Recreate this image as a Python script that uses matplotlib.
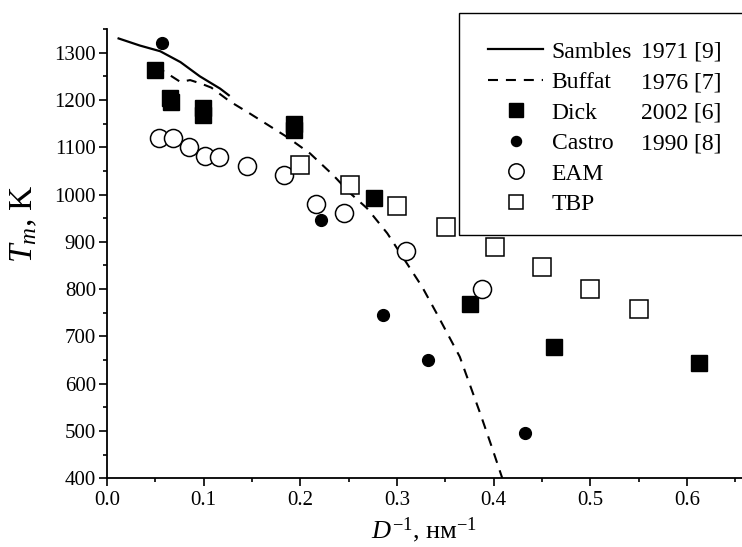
import matplotlib
matplotlib.use("Agg")
import matplotlib.pyplot as plt
from matplotlib.patches import Rectangle

plt.rcParams['font.family'] = ['Liberation Serif', 'DejaVu Serif']
plt.rcParams['mathtext.fontset'] = 'custom'
plt.rcParams['mathtext.rm'] = 'Liberation Serif'
plt.rcParams['mathtext.it'] = 'Liberation Serif:italic'

# Sambles 1971 [9] - solid curve
sambles_x = [0.012, 0.034, 0.055, 0.076, 0.096, 0.117, 0.126]
sambles_y = [1330, 1315, 1303, 1280, 1250, 1224, 1210]

# Buffat 1976 [7] - dashed curve
buffat_x = [0.050, 0.060, 0.076, 0.086, 0.098, 0.108, 0.127, 0.148, 0.186, 0.210,
            0.234, 0.252, 0.269, 0.290, 0.326, 0.341, 0.365, 0.386, 0.398, 0.409]
buffat_y = [1270, 1259, 1238, 1242, 1234, 1226, 1197, 1171, 1122, 1087,
            1041, 1002, 971, 918, 805, 749, 657, 538, 467, 400]

# Dick 2002 [6]
dick_x = [0.050, 0.065, 0.066, 0.099, 0.099, 0.193, 0.193, 0.276, 0.376, 0.463, 0.613]
dick_y = [1264, 1205, 1196, 1183, 1168, 1149, 1137, 993, 768, 678, 643]

# Castro 1990 [8]
castro_x = [0.057, 0.221, 0.286, 0.332, 0.433]
castro_y = [1321, 946, 746, 650, 495]

# EAM
eam_x = [0.054, 0.068, 0.085, 0.101, 0.116, 0.145, 0.183, 0.216, 0.245, 0.309, 0.388]
eam_y = [1120, 1120, 1100, 1081, 1080, 1060, 1041, 980, 960, 880, 801]

# TBP
tbp_x = [0.200, 0.251, 0.300, 0.351, 0.401, 0.450, 0.500, 0.550]
tbp_y = [1063, 1020, 975, 932, 889, 846, 801, 757]

names = ["Sambles", "Buffat", "Dick", "Castro", "EAM", "TBP"]
refs = ["1971 [9]", "1976 [7]", "2002 [6]", "1990 [8]", "", ""]

fig = plt.figure(figsize=(7.42, 5.47), dpi=100)
ax = fig.add_axes([0.1442, 0.1256, 0.8558, 0.8214])

h1, = ax.plot(sambles_x, sambles_y, color='black', lw=1.6, zorder=2)
h2, = ax.plot(buffat_x, buffat_y, color='black', lw=1.5, ls=(0, (4.8, 3.8)), zorder=2)
h3, = ax.plot(dick_x, dick_y, 's', color='black', ms=12, zorder=3, ls='none')
h5, = ax.plot(eam_x, eam_y, 'o', mfc='white', mec='black', mew=1.1, ms=13, zorder=4, ls='none')
h6, = ax.plot(tbp_x, tbp_y, 's', mfc='white', mec='black', mew=1.1, ms=12.5, zorder=5, ls='none')
h4, = ax.plot(castro_x, castro_y, 'o', color='black', ms=8.5, zorder=6, ls='none')

ax.set_xlim(0, 0.657)
ax.set_ylim(400, 1349)
ax.set_xticks([0.0, 0.1, 0.2, 0.3, 0.4, 0.5, 0.6])
ax.set_xticks([0.05, 0.15, 0.25, 0.35, 0.45, 0.55, 0.65], minor=True)
ax.set_yticks(range(400, 1301, 100))
ax.set_yticks(range(450, 1351, 100), minor=True)
ax.spines['top'].set_visible(False)
ax.spines['right'].set_visible(False)
for s in ['left', 'bottom']:
    ax.spines[s].set_linewidth(1.3)
ax.tick_params(which='major', direction='out', length=6, width=1.2, labelsize=15, pad=2)
ax.tick_params(which='minor', direction='out', length=3, width=1.2)
ax.tick_params(axis='x', pad=3)

ax.set_xlabel(r"$D^{\mathit{-1}}$, нм$^{-1}$", fontsize=19)
ax.xaxis.set_label_coords(0.5, -0.082)
ax.set_ylabel(r"$T_m$, K", fontsize=24)
ax.yaxis.set_label_coords(-0.106, 0.566)

# legend frame (reaches past the right edge of the figure)
frame = Rectangle((459 / 742, 1 - 235 / 547), 0.5, (235 - 13) / 547,
                  transform=fig.transFigure, facecolor='white',
                  edgecolor='black', lw=1.0, zorder=10, clip_on=False)
ax.add_patch(frame)
leg = ax.legend([h1, h2, h3, h4, h5, h6], names, loc='upper left',
                bbox_to_anchor=(488 / 742, 1 - 41 / 547), bbox_transform=fig.transFigure,
                frameon=False, fontsize=17, handlelength=2.33, handletextpad=0.37,
                labelspacing=0.38, borderpad=0, borderaxespad=0, markerscale=0.85)
leg.set_zorder(11)

fig.canvas.draw()
inv = fig.transFigure.inverted()
for t, r in zip(leg.get_texts(), refs):
    if not r:
        continue
    bb = t.get_window_extent()
    x0, y0 = inv.transform((bb.x0, bb.y0))
    fig.text(721.7 / 742, y0, r, ha='right', va='bottom', fontsize=17, zorder=12)

fig.savefig("out.png", dpi=100)
